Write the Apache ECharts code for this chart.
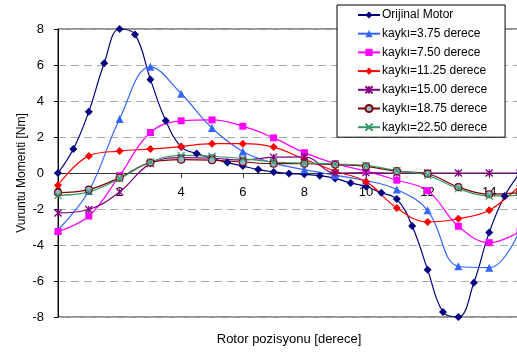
<!DOCTYPE html>
<html>
<head>
<meta charset="utf-8">
<script src="https://cdn.jsdelivr.net/npm/echarts@6/dist/echarts.min.js"></script>
<style>
  html, body { margin: 0; padding: 0; background: #fff; }
  #chart1 { width: 517px; height: 352px; }
</style>
</head>
<body>
<div id="chart1"></div>
<script>
// rotor positions
const xHalf = [0, 0.5, 1, 1.5, 2, 2.5, 3, 3.5, 4, 4.5, 5, 5.5, 6, 6.5, 7, 7.5,
  8, 8.5, 9, 9.5, 10, 10.5, 11, 11.5, 12, 12.5, 13, 13.5, 14, 14.5, 15];
const xWhole = [0, 1, 2, 3, 4, 5, 6, 7, 8, 9, 10, 11, 12, 13, 14, 15];

const seriesNames = ['Orijinal Motor', 'kaykı=3.75 derece', 'kaykı=7.50 derece',
  'kaykı=11.25 derece', 'kaykı=15.00 derece', 'kaykı=18.75 derece', 'kaykı=22.50 derece'];

const orijinal = [0, 1.33, 3.4, 6.1, 8.0, 7.7, 5.2, 2.9, 1.45, 1.08, 0.82, 0.58, 0.39, 0.19, 0.06, -0.03,
  -0.07, -0.15, -0.3, -0.55, -0.75, -1.1, -1.45, -2.94, -5.37, -7.72, -8.0, -6.1, -3.3, -1.28, 0];
const kayki375 = [-3.15, -1.0, 3.0, 5.9, 4.4, 2.5, 1.2, 0.55, 0.19, -0.12, -0.42, -0.92, -2.07, -5.18, -5.26, -3.15];
const kayki750 = [-3.25, -2.39, -0.15, 2.25, 2.9, 2.95, 2.6, 1.95, 1.13, 0.52, 0.1, -0.4, -0.98, -2.96, -3.87, -3.25];
const kayki1125 = [-0.68, 0.95, 1.22, 1.33, 1.47, 1.63, 1.63, 1.44, 0.76, 0.1, -0.48, -1.94, -2.72, -2.54, -2.07, -0.68];
const kayki1500 = [-2.22, -2.03, -1.05, 0.52, 0.85, 0.82, 0.72, 0.88, 0.9, 0.0, 0.02, 0.0, 0.0, 0.0, 0.0, 0.0];
const kayki1875 = [-1.09, -0.92, -0.26, 0.58, 0.74, 0.71, 0.61, 0.52, 0.52, 0.47, 0.37, 0.1, -0.04, -0.78, -1.18, -1.09];
const kayki2250 = [-1.24, -1.05, -0.31, 0.61, 0.98, 0.93, 0.8, 0.61, 0.55, 0.5, 0.42, 0.13, -0.13, -0.87, -1.28, -1.24];

const yTicks = [-8, -6, -4, -2, 0, 2, 4, 6, 8];

const pairs = (xs, ys) => ys.map((y, i) => [xs[i], y]);

const starPath = 'path://M0,0L10,10M10,0L0,10M5,0L5,10';
const crossPath = 'path://M0,0L10,10M10,0L0,10';

const makeSeries = (name, data, color, symbol, size, extra) => Object.assign({
  name: name,
  type: 'line',
  data: data,
  smooth: 0.4,
  symbol: symbol,
  symbolSize: size,
  lineStyle: { color: color, width: 1.2 },
  itemStyle: { color: color },
  emphasis: { disabled: true }
}, extra || {});

const getOptionChart1 = () => {
  return {
    animation: false,
    textStyle: { fontFamily: 'Liberation Sans, Arial, sans-serif' },
    grid: {
      left: 58, top: 29, width: 462, height: 288,
      outerBoundsMode: 'none',
      containLabel: false,
      show: true, borderColor: '#222', borderWidth: 1
    },
    legend: {
      orient: 'vertical',
      left: 337, top: 5,
      padding: [3, 18, 3, 20],
      itemGap: 4.7,
      itemWidth: 22,
      itemHeight: 9,
      backgroundColor: '#fff',
      borderColor: '#000',
      borderWidth: 1,
      textStyle: { fontSize: 12, lineHeight: 14, color: '#000', padding: [0, 0, 0, -3] },
      data: seriesNames
    },
    xAxis: {
      type: 'value',
      min: 0, max: 15, interval: 2,
      // axis drawn along the zero line
      offset: -144,
      name: 'Rotor pozisyonu [derece]',
      nameLocation: 'middle',
      nameGap: 160,
      nameMoveOverlap: false,
      nameTextStyle: { fontSize: 13, color: '#000' },
      axisLine: { onZero: false, lineStyle: { color: '#333', width: 1 } },
      axisTick: { show: true, length: 5, lineStyle: { color: '#333' } },
      axisLabel: { fontSize: 13, color: '#000', margin: 13, showMaxLabel: false },
      splitLine: { show: false }
    },
    yAxis: {
      type: 'value',
      min: yTicks[0], max: yTicks[yTicks.length - 1], interval: 2,
      name: 'Vuruntu Momenti [Nm]',
      nameLocation: 'middle',
      nameGap: 30,
      nameMoveOverlap: false,
      nameTextStyle: { fontSize: 12, color: '#000' },
      axisLine: { show: true, onZero: false, lineStyle: { color: '#000', width: 1 } },
      axisTick: { show: true, length: 4, lineStyle: { color: '#000' } },
      axisLabel: { fontSize: 13, color: '#000', margin: 14 },
      splitLine: { show: true, lineStyle: { color: '#aaa', type: [8, 5], width: 1 } }
    },
    series: [
      makeSeries(seriesNames[0], pairs(xHalf, orijinal), '#000080', 'diamond', 8),
      makeSeries(seriesNames[1], pairs(xWhole, kayki375), '#3366FF', 'triangle', 8),
      makeSeries(seriesNames[2], pairs(xWhole, kayki750), '#FF00FF', 'rect', 7),
      makeSeries(seriesNames[3], pairs(xWhole, kayki1125), '#FF0000', 'diamond', 8),
      makeSeries(seriesNames[4], pairs(xWhole, kayki1500), '#800080', starPath, 7, {
        itemStyle: { color: '#800080', borderColor: '#800080', borderWidth: 1.3 }
      }),
      makeSeries(seriesNames[5], pairs(xWhole, kayki1875), '#800000', 'circle', 7, {
        itemStyle: { color: '#8DB8D6', borderColor: '#800000', borderWidth: 1.2 }
      }),
      makeSeries(seriesNames[6], pairs(xWhole, kayki2250), '#339966', crossPath, 7, {
        itemStyle: { color: '#339966', borderColor: '#339966', borderWidth: 1.2 }
      })
    ]
  };
};

const initChart = () => {
  const chart1 = echarts.init(document.getElementById('chart1'));
  chart1.setOption(getOptionChart1());
};

window.addEventListener('load', function() {
  initChart();
});
</script>
</body>
</html>
